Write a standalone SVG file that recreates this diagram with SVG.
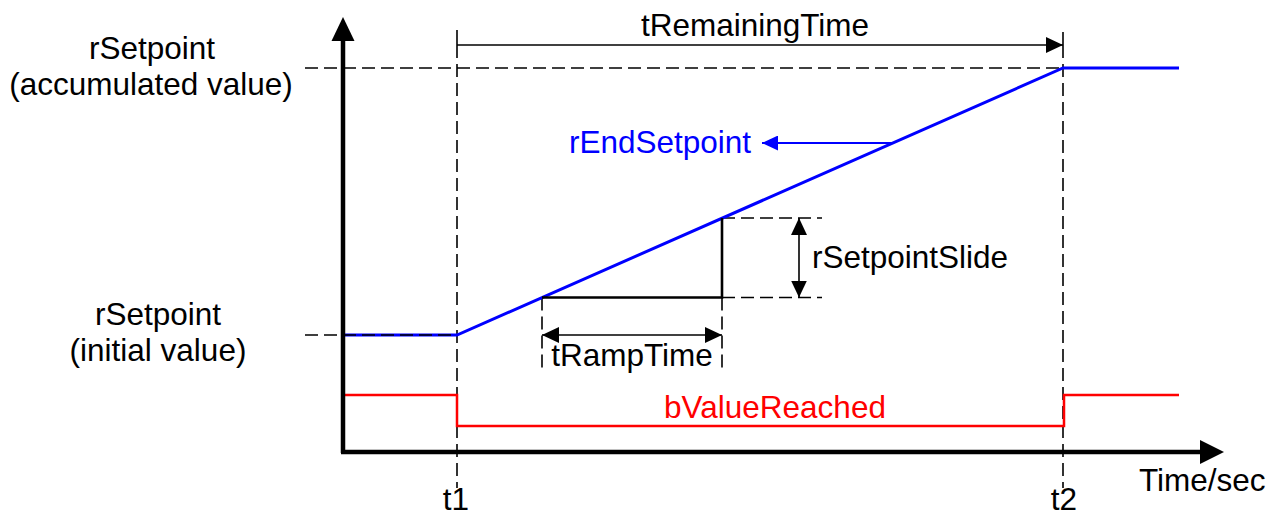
<svg xmlns="http://www.w3.org/2000/svg" width="1279" height="519" viewBox="0 0 1279 519">
<style>
  .txt { font-family: "Liberation Sans", Arial, sans-serif; font-size: 31.5px; fill: #000; }
  .blue-t { fill: #0000ff; }
  .red-t { fill: #ff0000; }
  .mid { text-anchor: middle; }
  .axis { stroke: #000; stroke-width: 4.5; fill: none; }
  .dash { stroke: #000; stroke-width: 1.6; stroke-dasharray: 13 6; fill: none; }
  .dim { stroke: #000; stroke-width: 1.6; fill: none; }
  .blue { stroke: #0000ff; stroke-width: 3; fill: none; }
  .red { stroke: #ff0000; stroke-width: 2.5; fill: none; }
  .solid { stroke: #000; stroke-width: 2.6; fill: none; }
</style>
<defs>
  <marker id="ah" markerUnits="userSpaceOnUse" markerWidth="17" markerHeight="16" refX="17" refY="8" orient="auto-start-reverse" viewBox="0 0 17 16">
    <path d="M0,0 L17,8 L0,16 z" fill="#000"/>
  </marker>
  <marker id="ahb" markerUnits="userSpaceOnUse" markerWidth="16" markerHeight="15" refX="16" refY="7.5" orient="auto" viewBox="0 0 16 15">
    <path d="M0,0 L16,7.5 L0,15 z" fill="#0000ff"/>
  </marker>
</defs>
<rect width="1279" height="519" fill="#fff"/>

<g id="guides">
  <line class="dash" x1="457" y1="45" x2="457" y2="488"/>
  <line class="dash" x1="1063" y1="45" x2="1063" y2="488"/>
  <line class="dim" x1="457" y1="30" x2="457" y2="45"/>
  <line class="dim" x1="1063" y1="32" x2="1063" y2="45"/>
  <line class="dash" x1="305" y1="68" x2="1063" y2="68"/>
  <line class="dash" x1="722" y1="218" x2="822" y2="218"/>
  <line class="dash" x1="722" y1="297.5" x2="822" y2="297.5"/>
  <line class="dash" x1="542" y1="297.5" x2="542" y2="372"/>
  <line class="dash" x1="722" y1="297.5" x2="722" y2="372"/>
</g>

<g id="setpoint-signal">
  <polyline class="blue" points="343,335 457,335 1063,68 1179,68"/>
  <line class="dash" x1="305" y1="335" x2="457" y2="335"/>
</g>

<g id="slide-triangle">
  <polyline class="solid" points="542,297.5 722,297.5 722,218"/>
</g>

<g id="value-reached-signal">
  <polyline class="red" points="343,395 457,395 457,426 1064,426 1064,395 1179,395"/>
</g>

<g id="axes">
  <line class="axis" x1="343" y1="38" x2="343" y2="453"/>
  <polygon points="343,17 331.5,41 354.5,41" fill="#000"/>
  <line class="axis" x1="341" y1="452" x2="1202" y2="452"/>
  <polygon points="1224,452 1200,440 1200,464" fill="#000"/>
</g>

<g id="connectors">
  <line class="dim" x1="457" y1="45" x2="1063" y2="45" marker-end="url(#ah)"/>
  <line class="dim" x1="799" y1="218" x2="799" y2="297.5" marker-start="url(#ah)" marker-end="url(#ah)"/>
  <line class="dim" x1="542" y1="335" x2="722" y2="335" marker-start="url(#ah)" marker-end="url(#ah)"/>
  <line stroke="#0000ff" stroke-width="2" x1="892" y1="143" x2="762" y2="143" marker-end="url(#ahb)"/>
</g>

<g id="labels">
  <text class="txt mid" x="152" y="59">rSetpoint</text>
  <text class="txt mid" x="151" y="95">(accumulated value)</text>
  <text class="txt mid" x="158" y="325">rSetpoint</text>
  <text class="txt mid" x="158" y="361">(initial value)</text>
  <text class="txt mid" x="755" y="36">tRemainingTime</text>
  <text class="txt blue-t" x="569" y="153">rEndSetpoint</text>
  <text class="txt" x="812" y="268">rSetpointSlide</text>
  <text class="txt mid" x="632" y="366">tRampTime</text>
  <text class="txt red-t mid" x="775" y="418">bValueReached</text>
  <text class="txt mid" x="456" y="510">t1</text>
  <text class="txt mid" x="1064" y="510">t2</text>
  <text class="txt" x="1139" y="491">Time/sec</text>
</g>
</svg>
